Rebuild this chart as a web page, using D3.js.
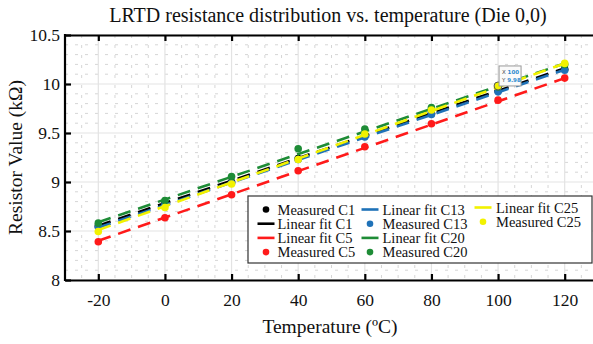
<!DOCTYPE html>
<html>
<head>
<script src="https://cdn.jsdelivr.net/npm/d3@7"></script>
<style>
  body { margin: 0; background: #fff; }
  text { font-family: "Liberation Serif", "Times New Roman", serif; fill: #111; }
</style>
</head>
<body>
<script>
var temps = [-20, 0, 20, 40, 60, 80, 100, 120];
var c1  = [8.55, 8.78, 9.00, 9.24, 9.47, 9.70, 9.93, 10.15];
var c5  = [8.39, 8.635, 8.87, 9.115, 9.36, 9.595, 9.835, 10.06];
var c13 = [8.54, 8.77, 8.99, 9.23, 9.46, 9.69, 9.92, 10.14];
var c20 = [8.58, 8.81, 9.055, 9.34, 9.54, 9.76, 9.97, 10.20];
var c25 = [8.495, 8.74, 8.98, 9.23, 9.49, 9.735, 9.98, 10.21];

// linear fit values at -20 and 120
var fitX = [-20, 120];
var fitC1  = [8.555, 10.16];
var fitC5  = [8.40, 10.06];
var fitC13 = [8.535, 10.145];
var fitC20 = [8.59, 10.21];
var fitC25 = [8.51, 10.21];

var xTicks = [-20, 0, 20, 40, 60, 80, 100, 120];
var yTicks = [8, 8.5, 9, 9.5, 10, 10.5];

var w = 593, h = 344;
var mLeft = 65, mTop = 35, mBottom = 280, mRight = 598;

var x = d3.scaleLinear().domain([-30, 130]).range([mLeft, mRight]);
var y = d3.scaleLinear().domain([8, 10.5]).range([mBottom, mTop]);

var svg = d3.select("body").append("svg").attr("width", w).attr("height", h);

// minor grid (dotted)
var grid = svg.append("g");
grid.selectAll("line.mx").data(d3.range(-25, 130, 5).filter(function(v){ return v % 20 != 0; }))
  .enter().append("line")
  .attr("x1", function(d){ return x(d); }).attr("x2", function(d){ return x(d); })
  .attr("y1", mTop).attr("y2", mBottom)
  .attr("stroke", "#d6d6d6").attr("stroke-width", 1).attr("stroke-dasharray", "3,7");
grid.selectAll("line.my").data(d3.range(0, 24).filter(function(i){ return (i + 1) % 5 != 0; }).map(function(i){ return 8.1 + i * 0.1; }))
  .enter().append("line")
  .attr("y1", function(d){ return y(d); }).attr("y2", function(d){ return y(d); })
  .attr("x1", mLeft).attr("x2", w)
  .attr("stroke", "#d6d6d6").attr("stroke-width", 1).attr("stroke-dasharray", "3,7");

// major grid
grid.selectAll("line.gx").data(xTicks).enter().append("line")
  .attr("x1", function(d){ return x(d); }).attr("x2", function(d){ return x(d); })
  .attr("y1", mTop).attr("y2", mBottom)
  .attr("stroke", "#e3e3e3").attr("stroke-width", 1.2);
grid.selectAll("line.gy").data(yTicks).enter().append("line")
  .attr("y1", function(d){ return y(d); }).attr("y2", function(d){ return y(d); })
  .attr("x1", mLeft).attr("x2", w)
  .attr("stroke", "#e3e3e3").attr("stroke-width", 1.2);

// series
var series = [
  { name: "C1",  vals: c1,  fit: fitC1,  color: "#000000" },
  { name: "C5",  vals: c5,  fit: fitC5,  color: "#ff1a1a" },
  { name: "C13", vals: c13, fit: fitC13, color: "#1f72b8" },
  { name: "C20", vals: c20, fit: fitC20, color: "#1e8c36" },
  { name: "C25", vals: c25, fit: fitC25, color: "#f2f200" }
];

var line = d3.line()
  .x(function(d){ return x(d[0]); })
  .y(function(d){ return y(d[1]); });

series.forEach(function(s) {
  var g = svg.append("g");
  g.selectAll("circle").data(d3.zip(temps, s.vals)).enter().append("circle")
    .attr("cx", function(d){ return x(d[0]); })
    .attr("cy", function(d){ return y(d[1]); })
    .attr("r", 3.8)
    .attr("fill", s.color);
  g.append("path")
    .attr("d", line(d3.zip(fitX, s.fit)))
    .attr("fill", "none")
    .attr("stroke", s.color)
    .attr("stroke-width", 2.6)
    .attr("stroke-dasharray", "13,8");
});

// selected point + datatip
var sel = svg.append("g");
sel.append("circle")
  .attr("cx", x(temps[6])).attr("cy", y(c25[6])).attr("r", 4)
  .attr("fill", "#f2f200").attr("stroke", "#555").attr("stroke-width", 1);
var tip = sel.append("g").attr("transform", "translate(" + (x(temps[6]) + 1) + "," + (y(c25[6]) - 20) + ")");
tip.append("rect").attr("width", 22).attr("height", 20)
  .attr("fill", "#fafafa").attr("stroke", "#999").attr("stroke-width", 1);
tip.append("text").attr("x", 3).attr("y", 8.5).style("font-family", "DejaVu Sans").style("font-size", "5.5px")
  .style("fill", "#444").text("X ")
  .append("tspan").style("fill", "#2a8ad0").style("font-weight", "bold").text(temps[6]);
tip.append("text").attr("x", 3).attr("y", 16).style("font-family", "DejaVu Sans").style("font-size", "5.5px")
  .style("fill", "#444").text("Y ")
  .append("tspan").style("fill", "#2a8ad0").style("font-weight", "bold").text(c25[6].toFixed(2));

// axes
var fmt = function(d){ return String(d); };
var xAxis = svg.append("g").attr("transform", "translate(0," + mBottom + ")")
  .call(d3.axisBottom(x).tickValues(xTicks).tickSize(-6).tickSizeOuter(0).tickPadding(13.5).tickFormat(fmt));
var topAxis = svg.append("g").attr("transform", "translate(0," + mTop + ")")
  .call(d3.axisTop(x).tickValues(xTicks).tickSize(-6).tickSizeOuter(0).tickFormat(""));
var yAxis = svg.append("g").attr("transform", "translate(" + mLeft + ",0)")
  .call(d3.axisLeft(y).tickValues(yTicks).tickSize(-6).tickSizeOuter(0).tickPadding(5).tickFormat(fmt));

[xAxis, topAxis, yAxis].forEach(function(a) {
  a.select(".domain").attr("stroke", "#000").attr("stroke-width", 2.2);
  a.selectAll(".tick line").attr("stroke", "#000").attr("stroke-width", 2.2);
  a.selectAll(".tick text")
    .style("font-family", "'Liberation Serif', serif")
    .style("font-size", "17.5px").attr("fill", "#111");
});
yAxis.select(".domain").attr("d", "M0," + (mTop - 1) + "V" + (mBottom + 1));

// legend
var lg = svg.append("g");
lg.append("rect").attr("x", 248).attr("y", 196).attr("width", 344).attr("height", 67)
  .attr("fill", "#fff").attr("stroke", "#333").attr("stroke-width", 1.2);
var items = [
  { col: 0, row: 0, kind: "dot",  s: series[0], label: "Measured C1" },
  { col: 0, row: 1, kind: "line", s: series[0], label: "Linear fit C1" },
  { col: 0, row: 2, kind: "line", s: series[1], label: "Linear fit C5" },
  { col: 0, row: 3, kind: "dot",  s: series[1], label: "Measured C5" },
  { col: 1, row: 0, kind: "line", s: series[2], label: "Linear fit C13" },
  { col: 1, row: 1, kind: "dot",  s: series[2], label: "Measured C13" },
  { col: 1, row: 2, kind: "line", s: series[3], label: "Linear fit C20" },
  { col: 1, row: 3, kind: "dot",  s: series[3], label: "Measured C20" },
  { col: 2, row: 0, kind: "line", s: series[4], label: "Linear fit C25" },
  { col: 2, row: 1, kind: "dot",  s: series[4], label: "Measured C25" }
];
var colMark = [266, 370, 483], colText = [277.5, 382.5, 496];
var rowY = function(it){ return (it.col == 2 ? 207.5 : 209.5) + it.row * 14.2; };
items.forEach(function(it) {
  var cy = rowY(it), cx = colMark[it.col];
  if (it.kind == "dot") {
    lg.append("circle").attr("cx", cx).attr("cy", cy).attr("r", 3.3).attr("fill", it.s.color);
  } else {
    lg.append("line").attr("x1", cx - 8.5).attr("x2", cx + 8.5).attr("y1", cy).attr("y2", cy)
      .attr("stroke", it.s.color).attr("stroke-width", 2.6);
  }
  lg.append("text").attr("x", colText[it.col]).attr("y", cy + 5)
    .style("font-size", "14.5px").text(it.label);
});

// title and axis labels
svg.append("text").attr("x", 328).attr("y", 22).attr("text-anchor", "middle")
  .style("font-size", "20px").text("LRTD resistance distribution vs. temperature (Die 0,0)");
svg.append("text").attr("x", 330).attr("y", 333).attr("text-anchor", "middle")
  .style("font-size", "19.5px").text("Temperature (ºC)");
svg.append("text").attr("transform", "translate(22,157.5) rotate(-90)").attr("text-anchor", "middle")
  .style("font-size", "19.5px").text("Resistor Value (kΩ)");
</script>
</body>
</html>
